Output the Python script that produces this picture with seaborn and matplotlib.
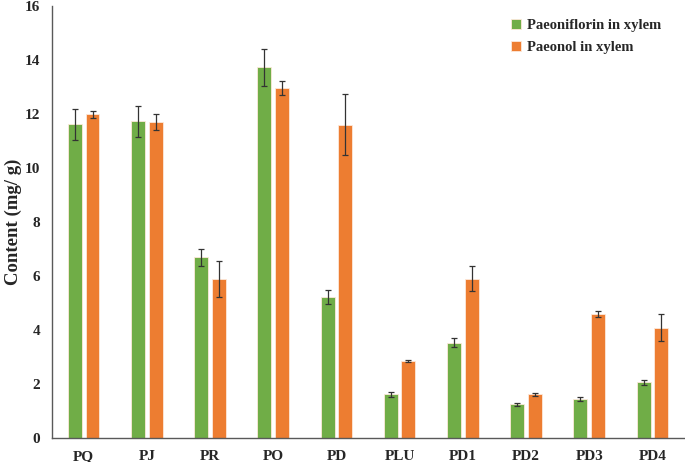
import numpy as np
import pandas as pd
import matplotlib.pyplot as plt
import seaborn as sns

# values
samples = ['PQ', 'PJ', 'PR', 'PO', 'PD', 'PLU', 'PD1', 'PD2', 'PD3', 'PD4']
paeoniflorin = [11.60, 11.72, 6.68, 13.72, 5.23, 1.61, 3.52, 1.24, 1.44, 2.06]
paeoniflorin_sd = [0.58, 0.58, 0.33, 0.68, 0.26, 0.08, 0.17, 0.05, 0.06, 0.10]
paeonol = [11.97, 11.68, 5.89, 12.95, 11.59, 2.85, 5.90, 1.61, 4.60, 4.07]
paeonol_sd = [0.14, 0.29, 0.67, 0.27, 1.13, 0.04, 0.47, 0.05, 0.11, 0.50]

series = ['Paeoniflorin in xylem', 'Paeonol in xylem']
colors = ['#70AD47', '#ED7D31']

df = pd.DataFrame({
    'Sample': samples * 2,
    'Compound': [series[0]] * len(samples) + [series[1]] * len(samples),
    'Content': paeoniflorin + paeonol,
})

sns.set_style('white')
plt.rcParams['font.family'] = ['Liberation Serif', 'DejaVu Serif']
plt.rcParams['font.weight'] = 'bold'

fig = plt.figure(figsize=(6.85, 4.62), dpi=100)
ax = fig.add_axes([0.076, 0.052, 0.9225, 0.936])

sns.barplot(data=df, x='Sample', y='Content', hue='Compound', order=samples,
            hue_order=series, palette=colors, saturation=1, errorbar=None,
            width=0.56, gap=0.21, edgecolor='#fde9da', linewidth=0.6, ax=ax)

# error bars at the centre of each drawn bar
for cont, sd in zip(ax.containers, [paeoniflorin_sd, paeonol_sd]):
    xs = [p.get_x() + p.get_width() / 2 for p in cont]
    hs = [p.get_height() for p in cont]
    ax.errorbar(xs, hs, yerr=sd, fmt='none', ecolor='#333333', elinewidth=0.9,
                capsize=2, capthick=0.9)

ax.set_ylim(0, 16)
ax.set_yticks(np.arange(0, 17, 2))
ax.set_xlim(-0.5, len(samples) - 0.5)
ax.set_xticks(np.arange(-0.5, len(samples), 1))
ax.set_xticklabels([])
ax.set_xticks(np.arange(len(samples)), minor=True)
ax.set_xticklabels(samples, minor=True, fontsize=11, fontweight='bold')
ax.tick_params(axis='x', which='minor', length=0, pad=9)
ax.tick_params(axis='x', which='major', length=5, width=1, color='#595959', direction='out')
ax.tick_params(axis='y', length=5, width=1, color='#595959', direction='out', labelsize=11)
for t in ax.get_yticklabels():
    t.set_fontweight('bold')

ax.set_xlabel('')
ax.set_ylabel('Content (mg/ g)', fontsize=13.5, fontweight='bold', labelpad=2)

sns.despine(ax=ax)
for s in ['left', 'bottom']:
    ax.spines[s].set_color('#595959')
    ax.spines[s].set_linewidth(1)

ax.legend(frameon=False, loc='upper right', bbox_to_anchor=(0.985, 1.0),
          handlelength=0.7, handleheight=0.7, handletextpad=0.4,
          labelspacing=0.6, prop={'weight': 'bold', 'size': 10.5})

fig.savefig('out.png', dpi=100)
